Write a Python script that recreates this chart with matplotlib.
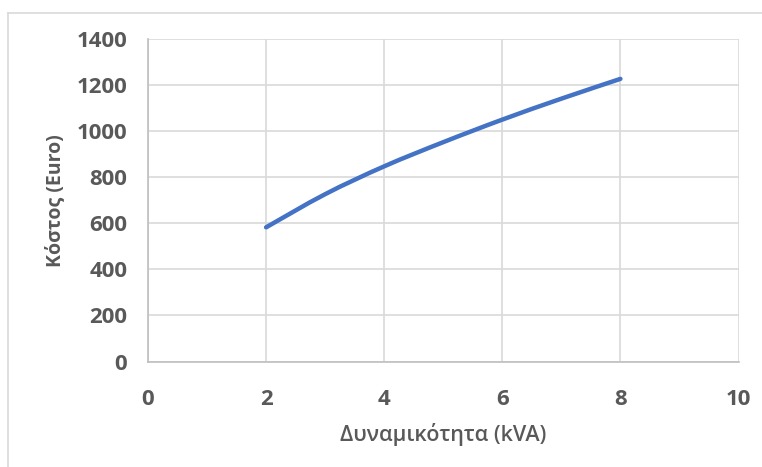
import matplotlib
matplotlib.use("Agg")
import matplotlib.pyplot as plt
from matplotlib.lines import Line2D
from matplotlib.path import Path
from matplotlib.patches import PathPatch

capacity_kva = [2, 3, 4, 5, 6, 7, 8]
cost_euro = [583, 727, 848, 953, 1051, 1142, 1228]
x_ticks = [0, 2, 4, 6, 8, 10]
y_ticks = [0, 200, 400, 600, 800, 1000, 1200, 1400]

plt.rcParams['font.family'] = ['Open Sans', 'DejaVu Sans']

W, H = 762, 467
fig = plt.figure(figsize=(W / 100, H / 100), dpi=100)
ax = fig.add_axes([148 / W, 1 - 361.5 / H, (738.5 - 148) / W, (361.5 - 39.3) / H])

# smoothed line (Excel-style Catmull-Rom through the data points)
pts = list(zip(capacity_kva, cost_euro))
verts = [pts[0]]
codes = [Path.MOVETO]
for i in range(len(pts) - 1):
    p0 = pts[i - 1] if i > 0 else pts[i]
    p1 = pts[i]
    p2 = pts[i + 1]
    p3 = pts[i + 2] if i + 2 < len(pts) else pts[i + 1]
    c1 = (p1[0] + (p2[0] - p0[0]) / 6, p1[1] + (p2[1] - p0[1]) / 6)
    c2 = (p2[0] - (p3[0] - p1[0]) / 6, p2[1] - (p3[1] - p1[1]) / 6)
    verts += [c1, c2, p2]
    codes += [Path.CURVE4] * 3
ax.add_patch(PathPatch(Path(verts, codes), facecolor='none', edgecolor='#4472C4',
                       lw=3.2, capstyle='round', joinstyle='round', zorder=3))

ax.set_xlim(0, 10)
ax.set_ylim(0, 1400)
ax.set_xticks(x_ticks)
ax.set_yticks(y_ticks)
ax.grid(True, color='#d9d9d9', lw=1.2)
ax.set_axisbelow(True)
for s in ['top', 'right']:
    ax.spines[s].set_visible(False)
for s in ['left', 'bottom']:
    ax.spines[s].set_color('#bfbfbf')
    ax.spines[s].set_linewidth(1.2)
ax.tick_params(length=0, colors='#595959', labelsize=16)
ax.tick_params(axis='x', pad=20)
ax.tick_params(axis='y', pad=15)
for lab in ax.get_xticklabels() + ax.get_yticklabels():
    lab.set_fontweight('bold')

ax.set_xlabel('Δυναμικότητα (kVA)', fontsize=15.5, color='#595959', fontweight='semibold', labelpad=9)
ax.set_ylabel('Κόστος (Euro)', fontsize=14, color='#595959', fontweight='bold', labelpad=8)

# outer chart border (left and top visible)
fig.add_artist(Line2D([7.5 / W, 7.5 / W], [0, 1 - 13.3 / H], transform=fig.transFigure,
                      color='#d9d9d9', lw=1.2))
fig.add_artist(Line2D([7.5 / W, 1], [1 - 13.3 / H, 1 - 13.3 / H], transform=fig.transFigure,
                      color='#d9d9d9', lw=1.2))

fig.savefig('out.png', dpi=100, facecolor='white')
